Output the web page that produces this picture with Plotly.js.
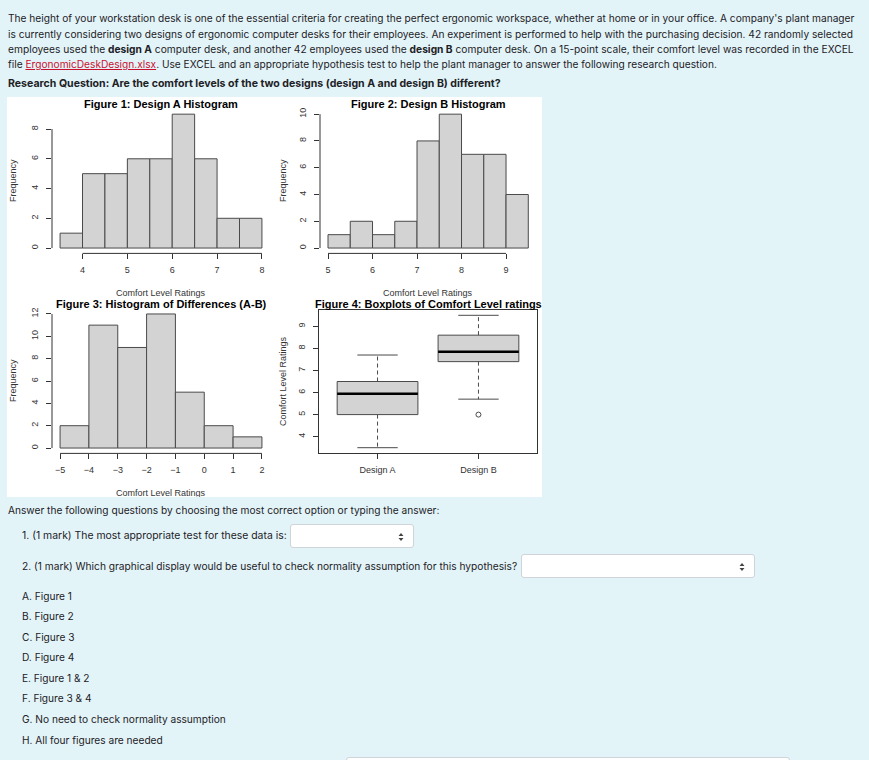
<!DOCTYPE html>
<html><head><meta charset="utf-8">
<script src="https://cdn.plot.ly/plotly-3.0.1.min.js"></script>
<style>
html,body{margin:0;padding:0;}
body{width:869px;height:760px;background:#e3f4f9;font-family:Inter,"Noto Sans",sans-serif;color:#1d2125;font-size:11px;position:relative;overflow:hidden;}
.ln{position:absolute;left:8px;white-space:nowrap;line-height:14px;height:14px;}
.q{left:22px;}
a{color:#c8102e;text-decoration:underline;}
.sel{position:absolute;background:#fff;border:1px solid #ced4da;border-radius:3px;box-sizing:border-box;}
.sel svg{position:absolute;right:9px;top:7px;}
#chart{position:absolute;left:7px;top:97px;width:535px;height:400px;background:#fff;}
</style></head>
<body>
<div class="ln fit" data-w="847" style="top:11px">The height of your workstation desk is one of the essential criteria for creating the perfect ergonomic workspace, whether at home or in your office. A company's plant manager</div>
<div class="ln fit" data-w="846" style="top:27px">is currently considering two designs of ergonomic computer desks for their employees. An experiment is performed to help with the purchasing decision. 42 randomly selected</div>
<div class="ln fit" data-w="847" style="top:42px">employees used the <b>design A</b> computer desk, and another 42 employees used the <b>design B</b> computer desk. On a 15-point scale, their comfort level was recorded in the EXCEL</div>
<div class="ln fit" data-w="710" style="top:57px">file <a>ErgonomicDeskDesign.xlsx</a>. Use EXCEL and an appropriate hypothesis test to help the plant manager to answer the following research question.</div>
<div class="ln fit" data-w="493" style="top:77px"><b>Research Question: Are the comfort levels of the two designs (design A and design B) different?</b></div>
<div id="chart"></div>
<div class="ln fit" data-w="432" style="top:503px">Answer the following questions by choosing the most correct option or typing the answer:</div>
<div class="ln q fit" data-w="265" style="top:529px">1. (1 mark) The most appropriate test for these data is:</div>
<div class="sel" style="left:290px;top:524px;width:124px;height:24px"><svg width="6" height="10" viewBox="0 0 6 10"><path d="M3 1 L5.5 4 L0.5 4 Z M3 9 L5.5 6 L0.5 6 Z" fill="#444"/></svg></div>
<div class="ln q fit" data-w="496" style="top:559px">2. (1 mark) Which graphical display would be useful to check normality assumption for this hypothesis?</div>
<div class="sel" style="left:521px;top:554px;width:234px;height:24px"><svg width="6" height="10" viewBox="0 0 6 10"><path d="M3 1 L5.5 4 L0.5 4 Z M3 9 L5.5 6 L0.5 6 Z" fill="#444"/></svg></div>
<div class="ln q li" style="top:589px">A. Figure 1</div>
<div class="ln q li" style="top:609px">B. Figure 2</div>
<div class="ln q li" style="top:630px">C. Figure 3</div>
<div class="ln q li" style="top:650px">D. Figure 4</div>
<div class="ln q li" style="top:671px">E. Figure 1 &amp; 2</div>
<div class="ln q li" style="top:691px">F. Figure 3 &amp; 4</div>
<div class="ln q li" id="liG" data-w="204" style="top:712px">G. No need to check normality assumption</div>
<div class="ln q li" style="top:733px">H. All four figures are needed</div>
<div class="sel" style="left:346px;top:757px;width:444px;height:24px"></div>
<script>
// ---- data ----
const designA_edges = [3.5,4,4.5,5,5.5,6,6.5,7,7.5,8];
const designA_counts = [1,5,5,6,6,9,6,2,2];
const designA_xticks = [4,5,6,7,8];
const designA_yticks = [0,2,4,6,8];

const designB_edges = [5,5.5,6,6.5,7,7.5,8,8.5,9,9.5];
const designB_counts = [1,2,1,2,8,10,7,7,4];
const designB_xticks = [5,6,7,8,9];
const designB_yticks = [0,2,4,6,8,10];

const diff_edges = [-5,-4,-3,-2,-1,0,1,2];
const diff_counts = [2,11,9,12,5,2,1];
const diff_xticks = [-5,-4,-3,-2,-1,0,1,2];
const diff_yticks = [0,2,4,6,8,10,12];

const boxLabels = ['Design A','Design B'];
const boxLowerWhisker = [3.5,5.7];
const boxQ1 = [5.0,7.4];
const boxMedian = [5.95,7.85];
const boxQ3 = [6.5,8.6];
const boxUpperWhisker = [7.7,9.5];
const boxOutliers = [[],[5.0]];
const box_yticks = [4,5,6,7,8,9];

const titles = ['Figure 1: Design A Histogram','Figure 2: Design B Histogram','Figure 3: Histogram of Differences (A-B)','Figure 4: Boxplots of Comfort Level ratings'];
const xTitle = 'Comfort Level Ratings';
const yTitleHist = 'Frequency';
const yTitleBox = 'Comfort Level Ratings';

// ---- fit HTML text lines to the reference widths ----
function fitText(){
  document.querySelectorAll('.fit').forEach(el=>{
    const target=+el.dataset.w; const w=el.getBoundingClientRect().width;
    el.style.fontSize=(11*target/w).toFixed(3)+'px';
  });
  const g=document.getElementById('liG');
  const s=11*(+g.dataset.w)/g.getBoundingClientRect().width;
  document.querySelectorAll('.li').forEach(el=>{el.style.fontSize=s.toFixed(3)+'px';});
}
fitText();
if(document.fonts&&document.fonts.ready){document.fonts.ready.then(()=>{document.querySelectorAll('.fit,.li').forEach(e=>e.style.fontSize='11px');fitText();});}

// ---- layout helpers (page pixel -> paper) ----
const L=7,T=97,W=535,H=400;
const px=v=>(v-L)/W, py=v=>1-(v-T)/H;
const ext=(a,b)=>{const d=(b-a)*0.04;return [a-d,b+d];};

const FONT='"Liberation Sans", Arial, sans-serif';
const GRAY='#d3d3d3', EDGE='#4a4a4a', INK='#222';

function histTrace(edges,counts,xa,ya){
  const x=[],w=[];
  for(let i=0;i<counts.length;i++){x.push((edges[i]+edges[i+1])/2);w.push(edges[i+1]-edges[i]);}
  return {type:'bar',x:x,y:counts,width:w,xaxis:xa,yaxis:ya,marker:{color:GRAY,line:{color:EDGE,width:1}},hoverinfo:'skip',showlegend:false};
}
const traces=[
  histTrace(designA_edges,designA_counts,'x','y'),
  histTrace(designB_edges,designB_counts,'x2','y2'),
  histTrace(diff_edges,diff_counts,'x3','y3')
];
const BW=0.4, CAP=0.2;
for(let i=0;i<boxLabels.length;i++){
  const c=i+1;
  traces.push({type:'scatter',mode:'lines',xaxis:'x4',yaxis:'y4',x:[c-BW,c+BW,c+BW,c-BW,c-BW],y:[boxQ1[i],boxQ1[i],boxQ3[i],boxQ3[i],boxQ1[i]],fill:'toself',fillcolor:GRAY,line:{color:EDGE,width:1},showlegend:false,hoverinfo:'skip'});
  traces.push({type:'scatter',mode:'lines',xaxis:'x4',yaxis:'y4',x:[c,c,null,c,c],y:[boxQ3[i],boxUpperWhisker[i],null,boxQ1[i],boxLowerWhisker[i]],line:{color:EDGE,width:1,dash:'4px,3px'},showlegend:false,hoverinfo:'skip'});
  traces.push({type:'scatter',mode:'lines',xaxis:'x4',yaxis:'y4',x:[c-CAP,c+CAP,null,c-CAP,c+CAP],y:[boxUpperWhisker[i],boxUpperWhisker[i],null,boxLowerWhisker[i],boxLowerWhisker[i]],line:{color:EDGE,width:1},showlegend:false,hoverinfo:'skip'});
  traces.push({type:'scatter',mode:'lines',xaxis:'x4',yaxis:'y4',x:[c-BW,c+BW],y:[boxMedian[i],boxMedian[i]],line:{color:'#000',width:2.5},showlegend:false,hoverinfo:'skip'});
  if(boxOutliers[i].length){
    traces.push({type:'scatter',mode:'markers',xaxis:'x4',yaxis:'y4',x:boxOutliers[i].map(()=>c),y:boxOutliers[i],marker:{symbol:'circle-open',size:5,color:EDGE,line:{width:1}},showlegend:false,hoverinfo:'skip'});
  }
}

const tickfont={family:FONT,size:9,color:'#333'};
function xax(dom,range,tv,tt){return {domain:dom,range:range,tickvals:tv,ticktext:tt,ticks:'outside',ticklen:5,tickcolor:'#333',showgrid:false,zeroline:false,showline:false,tickfont:tickfont,ticklabelstandoff:3,fixedrange:true};}
function yax(dom,range,tv){return {domain:dom,range:range,tickvals:tv,ticks:'outside',ticklen:5,tickcolor:'#333',showgrid:false,zeroline:false,showline:false,tickangle:-90,tickfont:tickfont,ticklabelstandoff:4,fixedrange:true};}

const xd1=[px(52),px(270)], xd2=[px(320),px(536.3)], yd1=[py(253.4),py(108.8)], yd3=[py(453.4),py(308.6)];
const layout={
  width:W,height:H,margin:{l:0,r:0,t:0,b:0},paper_bgcolor:'#fff',plot_bgcolor:'rgba(0,0,0,0)',showlegend:false,bargap:0,
  font:{family:FONT,color:INK},
  xaxis:Object.assign(xax(xd1,ext(designA_edges[0],designA_edges[designA_edges.length-1]),designA_xticks),{anchor:'y'}),
  yaxis:Object.assign(yax(yd1,ext(0,Math.max(...designA_counts)),designA_yticks),{anchor:'x'}),
  xaxis2:Object.assign(xax(xd2,ext(designB_edges[0],designB_edges[designB_edges.length-1]),designB_xticks),{anchor:'y2'}),
  yaxis2:Object.assign(yax(yd1,ext(0,Math.max(...designB_counts)),designB_yticks),{anchor:'x2'}),
  xaxis3:Object.assign(xax(xd1,ext(diff_edges[0],diff_edges[diff_edges.length-1]),diff_xticks),{anchor:'y3'}),
  yaxis3:Object.assign(yax(yd3,ext(0,Math.max(...diff_counts)),diff_yticks),{anchor:'x3'}),
  xaxis4:Object.assign(xax([px(319),px(537)],ext(0.5,2.5),[1,2],boxLabels),{anchor:'y4',showline:true,mirror:true,linecolor:'#333',linewidth:1}),
  yaxis4:Object.assign(yax([py(453),py(310)],ext(Math.min(...boxLowerWhisker,...boxOutliers.flat()),Math.max(...boxUpperWhisker)),box_yticks),{anchor:'x4',showline:true,mirror:true,linecolor:'#333',linewidth:1}),
  shapes:[],annotations:[]
};
// R-style axis lines spanning the tick range
function rAxis(xr,yr,xt,yt){
  layout.shapes.push({type:'line',xref:xr,yref:yr+' domain',x0:xt[0],x1:xt[xt.length-1],y0:0,y1:0,line:{color:'#333',width:1}});
  layout.shapes.push({type:'line',xref:xr+' domain',yref:yr,x0:0,x1:0,y0:yt[0],y1:yt[yt.length-1],line:{color:'#333',width:1}});
}
rAxis('x','y',designA_xticks,designA_yticks);
rAxis('x2','y2',designB_xticks,designB_yticks);
rAxis('x3','y3',diff_xticks,diff_yticks);

function ann(text,x,y,opts){layout.annotations.push(Object.assign({text:text,xref:'paper',yref:'paper',x:px(x),y:py(y),xanchor:'center',yanchor:'middle',showarrow:false,font:{family:FONT,size:9,color:'#333'}},opts||{}));}
const tfont={family:FONT,size:11,color:'#000'};
ann('<b>'+titles[0]+'</b>',161,104,{font:tfont});
ann('<b>'+titles[1]+'</b>',428,104,{font:tfont});
ann('<b>'+titles[2]+'</b>',161,304,{font:tfont});
ann('<b>'+titles[3]+'</b>',428,304,{font:tfont});
ann(xTitle,161,293); ann(xTitle,428,293); ann(xTitle,161,493);
ann(yTitleHist,13,181,{textangle:-90});
ann(yTitleHist,283,181,{textangle:-90});
ann(yTitleHist,13,381,{textangle:-90});
ann(yTitleBox,283,381,{textangle:-90});

Plotly.newPlot('chart',traces,layout,{staticPlot:true,displayModeBar:false});
</script>
</body></html>
